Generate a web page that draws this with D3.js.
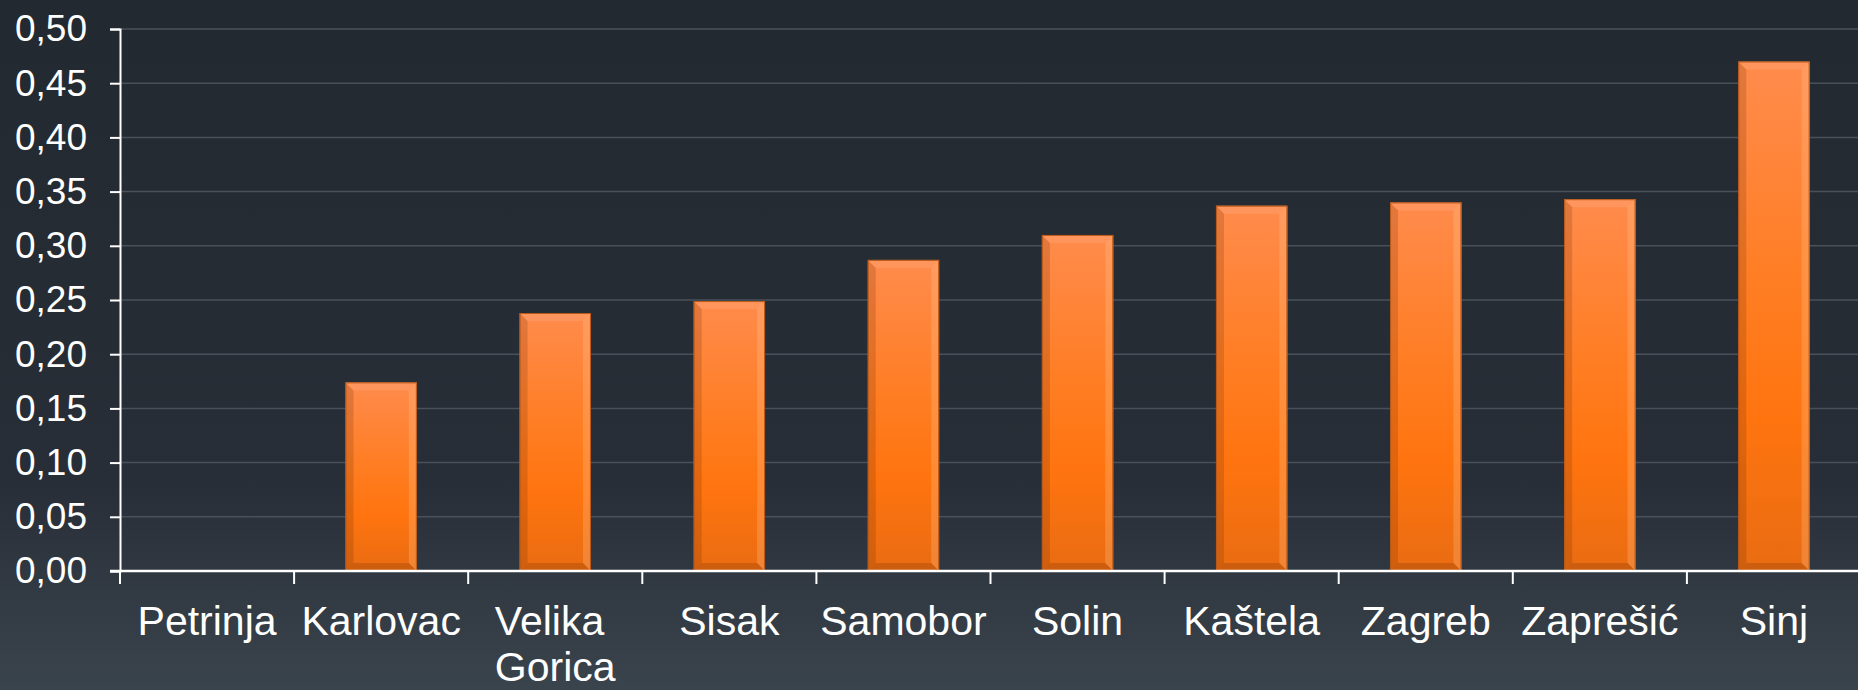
<!DOCTYPE html>
<html>
<head>
<meta charset="utf-8">
<script src="https://cdn.jsdelivr.net/npm/d3@7"></script>
<style>
  body { margin: 0; background: #232930; }
  svg { display: block; }
  text { font-family: "Liberation Sans", Arial, sans-serif; fill: #ffffff; }
</style>
</head>
<body>
<div id="chart"></div>
<script>
const categories = ["Petrinja", "Karlovac", "Velika Gorica", "Sisak", "Samobor", "Solin", "Kaštela", "Zagreb", "Zaprešić", "Sinj"];
const values = [0, 0.174, 0.238, 0.249, 0.287, 0.310, 0.337, 0.340, 0.343, 0.470];
const yTicks = [0, 0.05, 0.10, 0.15, 0.20, 0.25, 0.30, 0.35, 0.40, 0.45, 0.50];

const width = 1858;
const height = 690;
const plotLeft = 120, plotRight = 1861, plotTop = 29, plotBottom = 571;

const svg = d3.select("#chart")
  .append("svg")
  .attr("width", width)
  .attr("height", height);

const defs = svg.append("defs");

// page background
const bg = defs.append("linearGradient")
  .attr("id", "bg").attr("x1", 0).attr("y1", 0).attr("x2", 0).attr("y2", 1);
bg.append("stop").attr("offset", "0").attr("stop-color", "#232930");
bg.append("stop").attr("offset", "0.7").attr("stop-color", "#282e37");
bg.append("stop").attr("offset", "1").attr("stop-color", "#3a444d");

// bar fill
const bf = defs.append("linearGradient")
  .attr("id", "barFill").attr("x1", 0).attr("y1", 0).attr("x2", 0).attr("y2", 1);
bf.append("stop").attr("offset", "0").attr("stop-color", "#ff8b4c");
bf.append("stop").attr("offset", "0.45").attr("stop-color", "#ff7d22");
bf.append("stop").attr("offset", "0.7").attr("stop-color", "#ff740f");
bf.append("stop").attr("offset", "1").attr("stop-color", "#e96c12");

svg.append("rect")
  .attr("width", width).attr("height", height)
  .attr("fill", "url(#bg)");

const x = d3.scaleBand()
  .domain(categories)
  .range([plotLeft, plotRight])
  .padding(0);

const y = d3.scaleLinear()
  .domain([0, 0.5])
  .range([plotBottom, plotTop]);

// gridlines
svg.append("g")
  .selectAll("line")
  .data(yTicks.filter(d => d > 0))
  .enter()
  .append("line")
  .attr("x1", plotLeft)
  .attr("x2", width)
  .attr("y1", d => y(d))
  .attr("y2", d => y(d))
  .attr("stroke", "#48505a")
  .attr("stroke-width", 1.5);

// bars with bevel
const barW = x.bandwidth() * 0.41;
const bev = 8;

const bars = svg.append("g")
  .selectAll("g")
  .data(categories.map((c, i) => ({ c: c, v: values[i] })).filter(d => d.v > 0))
  .enter()
  .append("g");

bars.each(function(d) {
  const g = d3.select(this);
  const x0 = x(d.c) + (x.bandwidth() - barW) / 2;
  const x1 = x0 + barW;
  const y0 = y(d.v);
  const y1 = y(0);
  const b = Math.min(bev, (y1 - y0) / 2);

  g.append("rect")
    .attr("x", x0).attr("y", y0)
    .attr("width", barW).attr("height", y1 - y0)
    .attr("fill", "url(#barFill)");

  const faces = [
    { pts: [[x0, y0], [x1, y0], [x1 - b, y0 + b], [x0 + b, y0 + b]], fill: "#ffffff", op: 0.10 },
    { pts: [[x0, y0], [x0 + b, y0 + b], [x0 + b, y1 - b], [x0, y1]], fill: "#5a2000", op: 0.18 },
    { pts: [[x1, y0], [x1, y1], [x1 - b, y1 - b], [x1 - b, y0 + b]], fill: "#ffd0a0", op: 0.25 },
    { pts: [[x0, y1], [x0 + b, y1 - b], [x1 - b, y1 - b], [x1, y1]], fill: "#6a2800", op: 0.22 }
  ];
  g.selectAll("polygon")
    .data(faces)
    .enter()
    .append("polygon")
    .attr("points", f => f.pts.map(p => p.join(",")).join(" "))
    .attr("fill", f => f.fill)
    .attr("opacity", f => f.op);

  g.append("rect")
    .attr("x", x0 + 0.5).attr("y", y0 + 0.5)
    .attr("width", barW - 1).attr("height", y1 - y0 - 1)
    .attr("fill", "none")
    .attr("stroke", "#b8581a")
    .attr("stroke-width", 1);
});

// y axis
const yAxis = svg.append("g")
  .attr("transform", `translate(${plotLeft},0)`)
  .call(d3.axisLeft(y)
    .tickValues(yTicks)
    .tickSize(10)
    .tickPadding(23)
    .tickFormat(d => d3.format(".2f")(d).replace(".", ",")));

yAxis.select(".domain").attr("stroke", "#ffffff").attr("stroke-width", 2);
yAxis.selectAll(".tick line").attr("stroke", "#ffffff").attr("stroke-width", 2);
yAxis.selectAll(".tick text")
  .attr("fill", "#ffffff")
  .style("font-family", "'Liberation Sans', Arial, sans-serif")
  .style("font-size", "37px");

// x axis line and ticks at category boundaries
svg.append("line")
  .attr("x1", plotLeft - 10).attr("x2", width)
  .attr("y1", plotBottom).attr("y2", plotBottom)
  .attr("stroke", "#ffffff").attr("stroke-width", 2.5);

svg.append("g")
  .selectAll("line")
  .data(categories)
  .enter()
  .append("line")
  .attr("x1", d => x(d))
  .attr("x2", d => x(d))
  .attr("y1", plotBottom)
  .attr("y2", plotBottom + 13)
  .attr("stroke", "#ffffff")
  .attr("stroke-width", 2);

// category labels, wrapped when wider than the band
const labels = svg.append("g")
  .selectAll("text")
  .data(categories)
  .enter()
  .append("text")
  .style("font-size", "41px")
  .attr("x", d => x(d) + x.bandwidth() / 2)
  .attr("y", 635)
  .attr("text-anchor", "middle")
  .text(d => d);

labels.each(function(d) {
  const t = d3.select(this);
  if (this.getComputedTextLength() <= x.bandwidth()) return;
  const words = d.split(" ");
  t.text(null).attr("text-anchor", "start");
  const spans = words.map((w, i) => t.append("tspan").text(w).attr("dy", i === 0 ? 0 : 46));
  const maxW = d3.max(spans, s => s.node().getComputedTextLength());
  const sx = x(d) + x.bandwidth() / 2 - maxW / 2;
  spans.forEach(s => s.attr("x", sx));
});
</script>
</body>
</html>
